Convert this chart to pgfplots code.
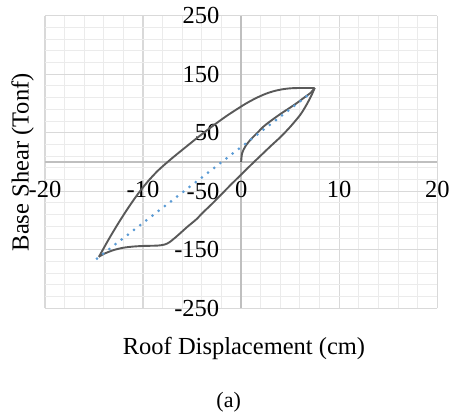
\documentclass[border=0pt]{standalone}
\usepackage{fontspec}
\setmainfont{Liberation Serif}
\usepackage{pgfplots}
\pgfplotsset{compat=1.18}
\definecolor{majgrid}{HTML}{D9D9D9}
\definecolor{mingrid}{HTML}{EBEBEB}
\definecolor{axisgray}{HTML}{BFBFBF}
\definecolor{curvegray}{HTML}{595959}
\definecolor{dotblue}{HTML}{5B9BD5}
\begin{document}
\begin{tikzpicture}[x=1pt,y=1pt]
\path[use as bounding box] (0,0) rectangle (450,417);
\begin{axis}[
  at={(45pt,108.7pt)}, anchor=south west,
  scale only axis, width=392.3pt, height=292.6pt,
  xmin=-20, xmax=20, ymin=-250, ymax=250,
  axis lines=middle,
  axis line style={axisgray, line width=1.5pt, -},
  xtick={-20,-10,0,10,20}, xticklabels={-20,-10,0,10,20},
  ytick={-250,-150,-50,50,150,250}, yticklabels={-250,-150,-50,50,150,250},
  minor x tick num=4, minor y tick num=4,
  major tick length=0pt, minor tick length=0pt,
  grid=both,
  major grid style={majgrid, line width=1.3pt},
  minor grid style={mingrid, line width=1pt},
  hide obscured x ticks=false, hide obscured y ticks=false,
  tick label style={font=\fontsize{24.5}{28}\selectfont, inner sep=0pt},
  xticklabel style={anchor=base, yshift=-36pt},
  yticklabel style={anchor=east, xshift=-21.7pt},
  clip=false,
]
\addplot[curvegray, line width=1.9pt, smooth, tension=0.5] coordinates {
(0,0) (0.1,15) (0.44,27) (0.95,38) (1.63,49.5) (2.31,61) (3,70) (4,82) (5,93) (5.7,101) (6.5,111) (7.07,118) (7.5,126.5)};
\addplot[curvegray, line width=1.9pt, smooth, tension=0.5] coordinates {
(7.5,126.5) (7.2,115) (6.9,105) (6.5,93) (6,80) (5,60) (4,42.5) (3,27) (2,11) (1,-5) (0,-21.5) (-1,-38) (-2,-55) (-3,-72) (-4,-88) (-4.5,-97) (-5.5,-111) (-6.5,-126) (-7.3,-137) (-7.8,-141) (-8.5,-142.8) (-10,-143.5) (-11,-144.5) (-12,-146.5) (-13,-150.5) (-14,-157) (-14.5,-162)};
\addplot[curvegray, line width=1.9pt, smooth, tension=0.5] coordinates {
(-14.5,-162) (-13.5,-132) (-12.5,-104) (-11.5,-78) (-10.5,-54) (-9.5,-33) (-8.5,-15) (-7.5,0) (-6.5,14) (-5.5,27.5) (-4.5,41) (-3.5,54) (-2.5,66.5) (-1.5,78.5) (-0.5,89.5) (0.5,100) (1.5,109) (2.5,116.5) (3.5,121.8) (4.5,125) (5.5,126.3) (7.5,126.5)};
\addplot[dotblue, line width=3pt, line cap=round, dash pattern=on 0pt off 7.8pt] coordinates {
(-14.7,-165) (7.2,119)};
\end{axis}
\node[anchor=base, font=\fontsize{24.5}{28}\selectfont] at (244,62) {Roof Displacement (cm)};
\node[anchor=base, rotate=90, font=\fontsize{24.5}{28}\selectfont] at (28.5,254.7) {Base Shear (Tonf)};
\node[anchor=base, font=\fontsize{22}{26}\selectfont] at (228.7,9) {(a)};
\end{tikzpicture}
\end{document}
